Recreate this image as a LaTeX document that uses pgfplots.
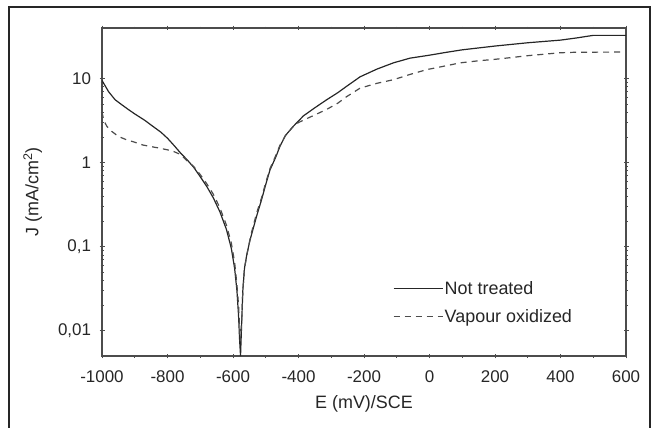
\documentclass[border=0pt]{standalone}
\usepackage{fontspec}
\setmainfont{Liberation Sans}
\usepackage{pgfplots}
\pgfplotsset{compat=1.18}
\begin{document}
\begin{tikzpicture}[x=1bp,y=1bp]
\useasboundingbox (0,0) rectangle (656,427);
\draw[line width=1.6bp, black!85] (9,-3) -- (9,420) -- (650,420) -- (650,-3);
\begin{axis}[
  at={(102bp,71bp)}, anchor=south west,
  scale only axis, width=524bp, height=328bp,
  xmin=-1000, xmax=600,
  ymode=log, ymin=0.005, ymax=40,
  xtick={-1000,-800,-600,-400,-200,0,200,400,600},
  xticklabels={-1000,-800,-600,-400,-200,0,200,400,600},
  minor x tick num=1,
  ytick={0.01,0.1,1,10},
  yticklabels={{0,01},{0,1},1,10},
  tick align=center,
  major tick length=5bp, minor tick length=3bp,
  axis line style={black!70, line width=1.1bp},
  every tick/.style={black!70, line width=0.8bp},
  every minor tick/.style={black!70, line width=0.6bp},
  /pgf/number format/assume math mode=true,
  tick label style={font=\fontsize{17}{17}\selectfont, text=black!85},
  xticklabel style={anchor=center, yshift=-18bp},
  yticklabel style={anchor=east, xshift=-5bp},
  xlabel={E (mV)/SCE},
  ylabel={J (mA/cm\textsuperscript{2})},
  label style={font=\fontsize{18}{18}\selectfont, text=black!85},
  x label style={at={(axis description cs:0.5,0)}, anchor=center, yshift=-48bp},
  y label style={at={(axis description cs:-0.132,0.5)}, anchor=center},
  legend style={draw=none, fill=none, at={(0.555,0.232)}, anchor=north west,
    font=\fontsize{18}{18}\selectfont, text=black!85, inner xsep=0pt, inner ysep=0pt,
    row sep=10bp, nodes={inner sep=1.5bp}},
  legend cell align=left,
  legend image code/.code={\draw[#1] (0bp,0bp) -- (49bp,0bp);},
  clip=true,
]
\addplot[black!85, line width=1.2bp] coordinates {
(-1000,9.5) (-980,7.0) (-960,5.6) (-940,4.9) (-920,4.3) (-900,3.8) (-870,3.2)
(-850,2.8) (-820,2.3) (-800,1.95) (-780,1.6) (-760,1.3) (-740,1.08) (-720,0.88)
(-700,0.68) (-680,0.52) (-660,0.38) (-640,0.26) (-620,0.16) (-605,0.095)
(-595,0.055) (-588,0.03) (-583,0.015) (-580,0.008) (-577,0.005)
(-574,0.011) (-570,0.03) (-565,0.055) (-558,0.08) (-548,0.12) (-528,0.23)
(-513,0.36) (-500,0.55) (-487,0.82) (-470,1.15) (-457,1.55) (-440,2.1)
(-416,2.7) (-385,3.6) (-350,4.5) (-314,5.6) (-280,6.8) (-253,8.1) (-212,10.5)
(-160,13) (-110,15.4) (-60,17.5) (0,19) (50,20.5) (100,22) (200,24.4)
(300,26.7) (400,28.7) (450,30.5) (500,32.7) (600,32.7)
};
\addlegendentry{Not treated}
\addplot[black!70, line width=1.2bp, dash pattern=on 6bp off 5bp] coordinates {
(-1000,4.0) (-995,3.2) (-985,2.7) (-970,2.35) (-950,2.05) (-925,1.87) (-900,1.75)
(-875,1.62) (-850,1.55) (-825,1.49) (-800,1.42) (-780,1.35) (-760,1.25)
(-740,1.05) (-720,0.9) (-700,0.72) (-680,0.56) (-660,0.42) (-640,0.29)
(-620,0.18) (-605,0.11) (-595,0.065) (-588,0.035) (-583,0.02) (-578,0.0075)
(-574,0.012) (-570,0.03) (-565,0.055) (-555,0.09) (-545,0.14) (-528,0.25)
(-513,0.38) (-500,0.58) (-487,0.85) (-470,1.2) (-457,1.6) (-440,2.1)
(-416,2.7) (-400,3.0) (-385,3.2) (-350,3.7) (-314,4.3) (-280,5.1) (-253,6.1)
(-212,7.7) (-160,8.8) (-110,9.7) (-60,11.2) (-8,12.8) (50,14.2) (94,15.4)
(150,16.3) (196,16.9) (250,17.8) (297,18.7) (350,19.5) (399,20.3) (450,20.6)
(600,20.7)
};
\addlegendentry{Vapour oxidized}
\end{axis}
\end{tikzpicture}
\end{document}
